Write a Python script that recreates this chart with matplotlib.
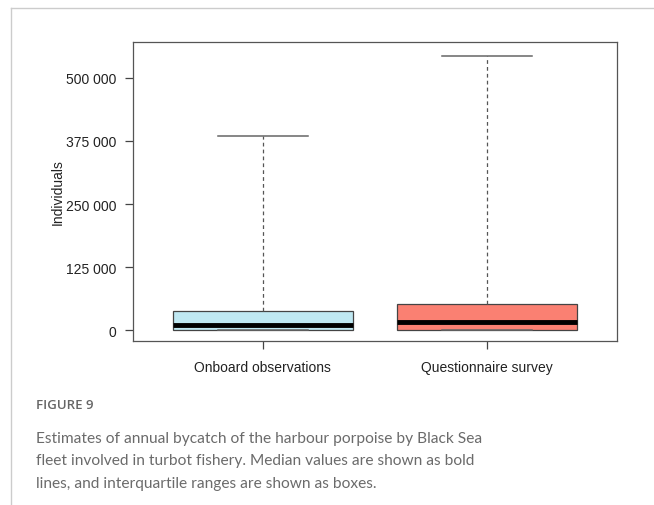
import matplotlib
matplotlib.use("Agg")
import matplotlib.pyplot as plt
from matplotlib.lines import Line2D

# annual bycatch estimates (individuals)
groups = ["Onboard observations", "Questionnaire survey"]
q1 = [0, 0]
medians = [10500, 15300]
q3 = [37100, 51600]
whis_lo = [0, 0]
whis_hi = [385500, 544200]
box_colors = ["#BFE8F2", "#FA8072"]

yticks = [0, 125000, 250000, 375000, 500000]
ytick_labels = ["0", "125 000", "250 000", "375 000", "500 000"]

caption_title = "FIGURE 9"
caption_lines = [
    "Estimates of annual bycatch of the harbour porpoise by Black Sea",
    "fleet involved in turbot fishery. Median values are shown as bold",
    "lines, and interquartile ranges are shown as boxes.",
]

plt.rcParams["font.family"] = ["Liberation Sans", "DejaVu Sans"]

fig = plt.figure(figsize=(6.54, 5.06), dpi=100)
ax = fig.add_axes([133 / 654, 1 - 342 / 506, 484 / 654, 299 / 506])

stats = []
for i in range(len(groups)):
    stats.append(dict(label=groups[i], q1=q1[i], med=medians[i], q3=q3[i],
                      whislo=whis_lo[i], whishi=whis_hi[i], fliers=[]))

bp = ax.bxp(stats, positions=[1, 2], widths=0.8, patch_artist=True,
            showfliers=False,
            boxprops=dict(edgecolor="#444444", linewidth=0.9),
            medianprops=dict(color="black", linewidth=3.5, solid_capstyle="butt"),
            whiskerprops=dict(color="#555555", linewidth=0.9, linestyle=(0, (3, 2.5))),
            capprops=dict(color="#666666", linewidth=1.1),
            capwidths=0.4)
for patch, c in zip(bp["boxes"], box_colors):
    patch.set_facecolor(c)

ax.set_xlim(0.423, 2.577)
ax.set_ylim(-21800, 571400)
ax.set_yticks(yticks)
ax.set_yticklabels(ytick_labels)
ax.set_xticks([1, 2])
ax.set_xticklabels(groups)
ax.tick_params(axis="both", labelsize=10, color="#444444", length=6, width=0.9,
               labelcolor="#222222")
ax.tick_params(axis="y", pad=6)
ax.tick_params(axis="x", pad=8)
for s in ax.spines.values():
    s.set_color("#555555")
    s.set_linewidth(0.9)
ax.set_ylabel("Individuals", fontsize=10, color="#222222")
ax.yaxis.set_label_coords(-0.142, 0.502)

# page frame lines
fig.add_artist(Line2D([11 / 654, 1], [1 - 9 / 506, 1 - 9 / 506],
                      transform=fig.transFigure, color="#cccccc", linewidth=1))
fig.add_artist(Line2D([11 / 654, 11 / 654], [0, 1 - 9 / 506],
                      transform=fig.transFigure, color="#cccccc", linewidth=1))

fig.text(36 / 654, 1 - 409 / 506, caption_title, fontsize=9.5, color="#666666",
         family=["Open Sans", "DejaVu Sans"], fontweight="semibold", va="baseline")
for k, line in enumerate(caption_lines):
    fig.text(36 / 654, 1 - (443 + 22.5 * k) / 506, line, fontsize=11.2,
             color="#6b6b6b", family=["Lato", "DejaVu Sans"], va="baseline")

fig.savefig("out.png", dpi=100)
